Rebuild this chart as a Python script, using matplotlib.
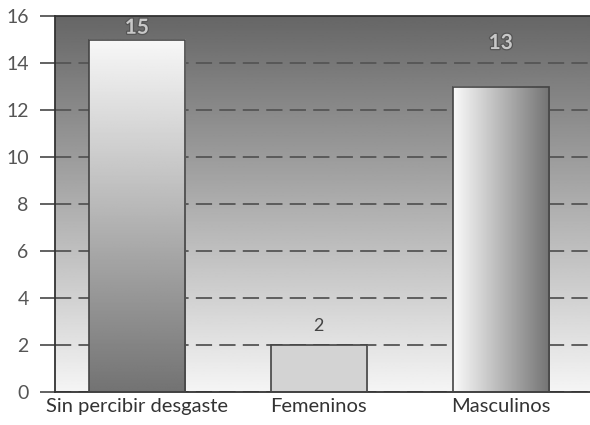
import matplotlib.pyplot as plt
import matplotlib.patheffects as pe
import numpy as np

categories = ["Sin percibir desgaste", "Femeninos", "Masculinos"]
values = [15, 2, 13]
label_y = [15.5, 2.8, 14.85]
yticks = [0, 2, 4, 6, 8, 10, 12, 14, 16]

plt.rcParams['font.family'] = ['Lato', 'DejaVu Sans']

fig = plt.figure(figsize=(5.9, 4.25), dpi=100)
ax = fig.add_axes([55 / 590, 33 / 425, 535 / 590, 376 / 425])

x = np.arange(len(categories))
xlim = (-0.45, 2.49)
ylim = (0, 16)
ax.set_xlim(*xlim)
ax.set_ylim(*ylim)

# background gradient, dark at top to light at bottom
bg = np.linspace(0.96, 0.40, 256).reshape(-1, 1)
ax.imshow(bg, cmap='gray', vmin=0, vmax=1, aspect='auto', origin='lower',
          extent=(xlim[0], xlim[1], ylim[0], ylim[1]), zorder=0)

ax.grid(axis='y', color='#555555', linestyle=(0, (9, 4)), linewidth=1.3, zorder=1)
ax.set_axisbelow(True)

w = 0.53
bars = ax.bar(x, values, width=w, facecolor='none', edgecolor='#444444',
              linewidth=1.2, zorder=3)

# bar fills
g1 = np.linspace(0.45, 0.97, 256).reshape(-1, 1)
ax.imshow(g1, cmap='gray', vmin=0, vmax=1, aspect='auto', origin='lower',
          extent=(x[0] - w / 2, x[0] + w / 2, 0, values[0]), zorder=2)
ax.imshow(np.array([[0.83]]), cmap='gray', vmin=0, vmax=1, aspect='auto',
          extent=(x[1] - w / 2, x[1] + w / 2, 0, values[1]), zorder=2)
g3 = np.linspace(0.98, 0.45, 256).reshape(1, -1)
ax.imshow(g3, cmap='gray', vmin=0, vmax=1, aspect='auto', origin='lower',
          extent=(x[2] - w / 2, x[2] + w / 2, 0, values[2]), zorder=2)
ax.set_xlim(*xlim)
ax.set_ylim(*ylim)

# value labels
for i, (v, ly) in enumerate(zip(values, label_y)):
    if v == 2:
        ax.text(x[i], ly, str(v), ha='center', va='center', fontsize=13,
                color='#444444', zorder=4)
    else:
        t = ax.text(x[i], ly, str(v), ha='center', va='center', fontsize=15,
                    color='#c8c8c8', fontweight='bold', zorder=4)
        t.set_path_effects([pe.Stroke(linewidth=1.8, foreground='#555555'),
                            pe.Normal()])

ax.set_xticks(x)
ax.set_xticklabels(categories, fontsize=14.5, color='#333333')
ax.set_yticks(yticks)
ax.set_yticklabels([str(t) for t in yticks], fontsize=14, color='#555555')
ax.tick_params(axis='x', length=0, pad=4)
ax.tick_params(axis='y', length=11, width=1.3, color='#555555', pad=8)

for side in ['left', 'bottom', 'top']:
    ax.spines[side].set_color('#333333')
    ax.spines[side].set_linewidth(1.3)
ax.spines['right'].set_visible(False)

fig.savefig('out.png', dpi=100)
